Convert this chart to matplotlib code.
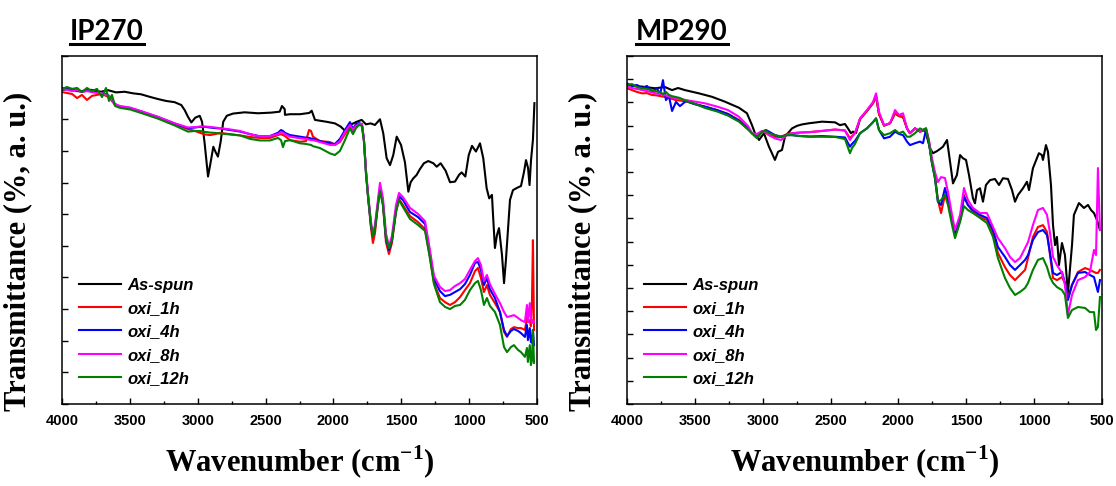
import matplotlib
matplotlib.use('Agg')
import matplotlib.pyplot as plt
from matplotlib.lines import Line2D
from matplotlib.ticker import MultipleLocator

plt.rcParams['mathtext.fontset'] = 'custom'
plt.rcParams['mathtext.rm'] = 'Liberation Serif:bold'
plt.rcParams['mathtext.bf'] = 'Liberation Serif:bold'

labels = ['As-spun', 'oxi_1h', 'oxi_4h', 'oxi_8h', 'oxi_12h']
colors = ['black', '#ff0000', '#0000ff', '#ff00ff', '#008000']

# ---------------- IP270 ----------------
ip_spun_w = [4000, 3931, 3860, 3786, 3713, 3661, 3602, 3538, 3477, 3418, 3354, 3293, 3234, 3170, 3121,
             3096, 3072, 3047, 3018, 2985, 2968, 2949, 2924, 2904, 2885, 2868, 2851, 2831, 2812, 2786,
             2740, 2654, 2556, 2458, 2396, 2379, 2359, 2357, 2320, 2246, 2178, 2160, 2136, 2050, 1989,
             1947, 1915, 1878, 1829, 1792, 1760, 1726, 1694, 1657, 1633, 1608, 1583, 1559, 1534, 1502,
             1473, 1448, 1431, 1412, 1387, 1362, 1333, 1301, 1264, 1239, 1210, 1173, 1141, 1104, 1075,
             1055, 1028, 1003, 979, 950, 920, 896, 871, 852, 832, 824, 810, 795, 780, 758, 743, 729,
             714, 699, 677, 648, 618, 596, 581, 566, 555, 544, 530, 519]
ip_spun = [99.3, 99.6, 98.7, 99.3, 98.7, 99.2, 98.5, 98.7, 98.2, 97.9, 97.1, 96.4, 95.8, 95.4, 94.5,
           92.9, 90.8, 89.0, 90.5, 91.1, 89.2, 82.4, 71.9, 76.6, 81.3, 79.6, 78.2, 82.9, 89.2, 91.1,
           91.8, 92.2, 91.9, 92.1, 92.4, 94.2, 93.2, 91.4, 91.6, 91.6, 92.0, 92.7, 89.8, 89.2, 88.7,
           87.7, 86.4, 88.2, 89.2, 89.8, 88.4, 88.7, 88.2, 90.0, 85.6, 77.7, 75.5, 78.7, 84.5, 81.9,
           76.4, 67.1, 70.1, 71.3, 72.4, 74.3, 76.1, 76.8, 76.1, 75.0, 76.1, 73.7, 70.1, 70.3, 72.4,
           73.2, 71.9, 78.7, 81.6, 79.8, 82.4, 77.7, 68.2, 65.0, 66.1, 59.7, 49.3, 53.4, 55.6, 47.1, 38.2, 45.5,
           55.0, 64.5, 67.6, 68.3, 68.9, 73.3, 77.1, 74.6, 69.2, 77.1, 83.5, 95.1]

ip_w = [4000, 3963, 3926, 3889, 3853, 3816, 3779, 3742, 3705, 3676, 3654, 3632, 3609, 3573, 3499,
        3418, 3293, 3167, 3072, 3020, 2983, 2946, 2910, 2873, 2836, 2762, 2688, 2615, 2541, 2467,
        2409, 2386, 2372, 2357, 2320, 2246, 2202, 2180, 2165, 2151, 2099, 2025, 1989, 1952, 1915,
        1878, 1856, 1834, 1812, 1790, 1775, 1760, 1745, 1723, 1709, 1694, 1672, 1657, 1635, 1613,
        1591, 1569, 1539, 1517, 1488, 1436, 1377, 1325, 1289, 1259, 1215, 1178, 1141, 1104, 1067,
        1031, 994, 957, 935, 913, 891, 869, 847, 810, 773, 743, 721, 692, 670, 640, 618, 589, 574,
        567, 553, 545, 537, 530, 522]
ip_1h = [98.6, 98.3, 98.0, 96.7, 97.7, 96.1, 97.4, 97.7, 98.0, 97.4, 97.0, 95.8, 94.5,
         93.9, 93.4, 92.3, 90.6, 88.4, 86.9, 86.3, 85.7, 85.2, 85.0, 85.3, 85.7, 85.3, 84.9, 84.4, 84.1, 84.1, 85.0, 85.3, 85.0, 84.7,
         83.4, 82.9, 83.1, 86.6, 86.3, 84.5, 83.1, 82.8, 81.9, 82.8, 85.3, 87.9, 86.3, 87.6, 88.5, 88.2, 83.4, 73.3, 65.4, 55.6,
         50.9, 54.0, 62.9, 68.3, 62.9, 51.2, 47.4, 50.9, 60.7, 64.8, 62.9, 59.4, 57.5, 55.3, 46.5, 38.2, 33.5, 32.2, 31.3, 32.2,
         33.8, 36.0, 38.2, 42.0, 43.0, 39.8, 35.4, 37.6, 34.5, 31.9, 29.1, 22.8, 21.2, 23.7, 24.3, 24.0, 24.0, 23.4, 27.2, 25.9,
         26.5, 24.6, 32.9, 51.8, 23.4]
ip_4h = [99.9, 99.6, 99.3, 98.9, 98.9, 99.3, 98.6, 98.6, 98.3, 98.0, 97.4, 96.1, 94.8,
         94.0, 93.6, 92.5, 90.7, 88.6, 87.2, 87.4, 87.6, 87.6, 87.4, 87.2, 87.1, 86.6, 86.1, 85.3, 84.6, 84.7, 85.7, 86.6, 86.3, 85.7,
         85.0, 84.5, 84.2, 84.1, 83.9, 83.8, 83.1, 82.4, 82.2, 83.8, 86.6, 89.1, 86.9, 88.5, 88.8, 88.5, 83.4, 73.3, 65.7, 56.3,
         53.1, 55.6, 63.5, 68.3, 63.5, 52.5, 48.7, 51.8, 61.3, 65.7, 64.5, 60.7, 59.1, 56.9, 47.7, 39.5, 35.7, 34.1, 34.5, 35.4,
         36.3, 37.9, 40.8, 44.6, 44.9, 42.4, 37.6, 39.8, 36.3, 33.5, 29.1, 23.4, 21.5, 23.1, 23.7, 23.1, 22.4, 21.2, 25.0, 20.2,
         24.0, 19.6, 19.3, 23.4, 18.6]
ip_8h = [99.6, 99.3, 98.9, 99.3, 98.6, 98.9, 98.6, 98.3, 98.3, 97.7, 97.4, 95.8, 94.8,
         94.2, 93.7, 92.6, 90.8, 88.7, 87.4, 87.5, 87.7, 87.7, 87.6, 87.4, 87.2, 86.8, 86.3, 85.3, 84.6, 84.7, 85.3, 86.0, 85.7, 85.3,
         84.5, 84.0, 83.8, 83.6, 83.4, 83.4, 82.8, 81.9, 81.9, 83.1, 86.0, 88.2, 86.6, 87.9, 88.5, 88.5, 83.4, 74.0, 66.7, 57.5,
         54.0, 56.6, 64.5, 69.9, 65.1, 54.0, 49.9, 53.1, 62.9, 66.7, 65.4, 62.0, 60.1, 57.8, 48.7, 40.5, 37.0, 35.7, 36.0, 37.3,
         38.2, 39.5, 42.4, 45.2, 46.1, 43.9, 38.9, 40.8, 37.9, 34.8, 31.9, 29.1, 27.5, 27.8, 28.1, 27.2, 26.5, 25.9, 31.3, 25.9,
         31.9, 27.2, 25.6, 26.5, 25.9]
ip_12h = [99.6, 100.2, 99.6, 99.9, 98.6, 99.9, 98.9, 99.6, 97.0, 99.9, 95.8, 97.7, 94.2,
          93.6, 93.1, 92.0, 90.2, 88.0, 86.1, 86.3, 86.3, 86.0, 85.8, 85.7, 85.5, 85.2, 84.9, 83.8, 83.3, 83.3, 84.1, 83.4, 81.2, 83.1,
          83.4, 82.4, 82.2, 82.0, 81.9, 81.5, 80.9, 79.2, 78.7, 80.0, 83.4, 87.2, 85.3, 87.2, 88.2, 87.9, 82.8, 72.4, 65.7, 56.6,
          52.8, 55.6, 62.9, 67.3, 62.9, 52.5, 49.3, 51.8, 60.7, 64.5, 62.3, 58.5, 56.6, 54.7, 46.1, 37.9, 32.2, 30.7, 30.0, 31.0,
          31.3, 32.9, 36.0, 38.2, 38.9, 36.0, 31.3, 33.5, 31.0, 29.1, 25.0, 18.0, 16.4, 18.0, 18.6, 17.1, 16.4, 14.9, 17.7, 13.3,
          18.6, 12.3, 13.9, 23.4, 13.0]

# ---------------- MP290 ----------------
mp_spun_w = [4000, 3889, 3794, 3720, 3668, 3624, 3573, 3470, 3373, 3278, 3175, 3116, 3079, 3057, 3027,
             2991, 2954, 2932, 2910, 2887, 2858, 2836, 2784, 2747, 2711, 2659, 2563, 2467, 2431, 2394,
             2372, 2350, 2335, 2313, 2283, 2232, 2187, 2165, 2143, 2106, 2062, 2025, 1996, 1966, 1937,
             1915, 1878, 1841, 1804, 1767, 1745, 1716, 1694, 1672, 1642, 1635, 1613, 1598, 1569, 1546,
             1524, 1502, 1480, 1451, 1436, 1421, 1399, 1377, 1355, 1325, 1289, 1259, 1230, 1193, 1163,
             1141, 1119, 1082, 1053, 1038, 1009, 965, 943, 935, 913, 898, 876, 861, 846, 832, 817, 795,
             773, 751, 721, 707, 670, 633, 603, 581, 559, 537, 515]
mp_spun = [137.5, 136.8, 136.1, 136.6, 135.3, 136.2, 135.3, 133.9, 132.4, 130.3, 127.7, 125.3, 120.2, 116.7, 113.8,
           116.7, 110.9, 108.1, 105.2, 108.7, 109.5, 115.2, 118.8, 119.9, 120.5, 121.0, 121.7, 121.4, 120.2, 120.7,
           118.8, 116.7, 117.4, 116.8, 122.8, 126.3, 129.7, 132.7, 125.0, 120.0, 121.0, 125.3, 124.1, 123.8, 118.8,
           116.7, 118.8, 117.4, 118.1, 110.2, 108.1, 109.0, 109.9, 110.9, 113.8, 110.9, 101.6, 95.1, 98.7, 107.3,
           105.9, 105.2, 98.7, 88.7, 86.5, 92.2, 93.0, 87.2, 94.4, 96.5, 97.0, 94.4, 97.3, 97.0, 92.2,
           87.2, 90.1, 93.0, 95.8, 92.2, 101.6, 108.1, 107.3, 105.2, 111.6, 108.7, 94.4, 77.1, 68.5, 72.0, 59.9, 69.4,
           64.2, 47.8, 68.5, 81.5, 86.6, 84.5, 85.8, 83.6, 82.3, 79.3, 75.0]

mp_w = [4000, 3963, 3926, 3889, 3853, 3816, 3779, 3757, 3735, 3713, 3691, 3668, 3639, 3610, 3565,
        3506, 3425, 3337, 3256, 3175, 3108, 3079, 3042, 3005, 2976, 2954, 2910, 2865, 2821, 2784,
        2725, 2652, 2563, 2467, 2394, 2357, 2342, 2320, 2283, 2232, 2187, 2165, 2143, 2106, 2062,
        2025, 1996, 1966, 1937, 1915, 1878, 1841, 1819, 1797, 1775, 1753, 1731, 1709, 1686, 1657,
        1635, 1605, 1583, 1546, 1517, 1488, 1451, 1399, 1348, 1303, 1267, 1215, 1178, 1141, 1104,
        1067, 1045, 1009, 972, 935, 905, 883, 861, 832, 795, 773, 751, 721, 677, 625, 589, 559,
        544, 530, 515]
mp_1h = [136.1, 135.3, 134.5, 133.9, 134.0, 133.2, 133.0, 132.7, 132.5, 132.3, 131.9, 131.5, 131.0, 130.8, 130.4,
         129.5, 128.1, 126.7, 125.0, 122.4, 119.0, 116.7, 115.5, 117.4, 116.8, 115.9, 115.2, 115.1, 116.4, 116.7,
         117.0, 117.2, 117.7, 118.3, 117.9, 114.6, 115.5, 116.8, 122.8, 126.3, 129.7, 132.7, 125.0, 120.0, 121.0,
         125.3, 124.1, 123.8, 118.8, 116.7, 118.8, 117.4, 118.1, 118.8, 112.9, 104.3, 98.7, 87.9, 82.3, 90.1,
         87.9, 79.3, 72.8, 79.3, 90.1, 85.8, 82.8, 80.6, 79.3, 73.7, 65.1, 59.0, 55.6, 53.4, 55.6,
         57.8, 62.9, 72.0, 76.3, 77.1, 74.1, 64.2, 54.3, 53.4, 54.7, 52.2, 45.7, 51.3, 56.9, 58.6, 57.8, 56.9,
         56.5, 56.5, 57.8]
mp_4h = [138.2, 137.1, 137.5, 136.1, 137.1, 134.5, 136.2, 133.2, 139.6, 131.0, 132.7, 126.3, 130.2, 128.4, 130.6,
         129.3, 128.2, 126.7, 125.0, 122.2, 118.5, 116.7, 114.6, 117.4, 118.1, 117.4, 115.9, 115.2, 115.9, 115.9,
         115.5, 115.3, 115.5, 115.2, 114.9, 110.9, 112.1, 113.4, 116.7, 118.8, 121.5, 123.1, 118.1, 114.5, 115.2,
         117.4, 116.4, 115.9, 113.1, 111.6, 112.4, 113.1, 112.4, 118.1, 112.5, 103.9, 97.4, 87.2, 85.8, 93.1,
         87.9, 78.4, 73.3, 79.3, 89.2, 85.8, 83.6, 81.5, 80.2, 75.0, 67.7, 63.4, 59.9, 57.8, 59.9,
         62.1, 64.2, 70.7, 74.1, 75.0, 72.8, 65.1, 56.5, 55.6, 56.9, 52.2, 44.8, 51.3, 56.5, 56.9, 55.6, 54.7,
         51.3, 48.3, 53.4]
mp_8h = [136.8, 136.2, 135.8, 135.3, 134.9, 134.3, 133.8, 133.6, 133.2, 133.0, 132.5, 132.1, 131.7, 131.5, 131.0,
         130.4, 129.6, 128.2, 126.7, 123.8, 119.8, 116.7, 116.4, 117.7, 117.2, 115.9, 114.5, 113.8, 115.9, 116.7,
         117.0, 117.2, 117.7, 118.3, 117.9, 113.8, 115.1, 116.8, 123.1, 126.7, 130.2, 133.9, 125.9, 120.2, 121.0,
         126.7, 124.6, 125.3, 118.8, 116.7, 118.8, 117.4, 118.1, 118.8, 113.8, 106.0, 100.0, 95.7, 97.8, 97.4,
         91.4, 81.5, 75.0, 81.5, 93.1, 87.9, 84.5, 82.3, 82.3, 76.3, 71.5, 67.2, 63.4, 61.2, 62.9,
         67.2, 69.8, 77.1, 83.6, 84.5, 81.5, 73.7, 63.4, 59.9, 56.5, 51.3, 38.4, 47.0, 53.4, 54.7, 56.9, 66.4,
         64.2, 101.7, 75.0]
mp_12h = [137.5, 137.9, 136.6, 136.1, 135.8, 135.3, 134.7, 134.5, 133.6, 134.5, 133.2, 132.7, 132.3, 131.9, 130.6,
          129.5, 127.6, 126.1, 124.3, 121.7, 118.3, 116.7, 114.6, 117.4, 117.7, 116.8, 115.9, 115.2, 115.9, 115.9,
          115.5, 115.2, 115.2, 115.1, 114.2, 108.1, 110.3, 112.1, 116.7, 118.8, 121.5, 123.1, 118.1, 115.9, 116.7,
          118.1, 116.7, 117.4, 115.2, 115.2, 116.7, 118.8, 118.1, 118.8, 112.5, 103.9, 97.4, 87.2, 87.9, 90.1,
          85.8, 77.1, 71.5, 78.4, 85.3, 83.6, 82.3, 80.2, 78.0, 72.0, 62.9, 54.3, 50.0, 47.0, 48.3,
          50.0, 52.2, 57.8, 62.1, 62.9, 59.0, 54.7, 52.2, 50.4, 49.1, 47.0, 37.1, 40.5, 41.8, 41.4, 39.6, 39.6,
          31.9, 33.2, 46.1]

panels = [
    ('IP270', [(ip_spun_w, ip_spun), (ip_w, ip_1h), (ip_w, ip_4h), (ip_w, ip_8h), (ip_w, ip_12h)], 110),
    ('MP290', [(mp_spun_w, mp_spun), (mp_w, mp_1h), (mp_w, mp_4h), (mp_w, mp_8h), (mp_w, mp_12h)], 150),
]

fig = plt.figure(figsize=(11.16, 4.86), dpi=100)
lefts = [62 / 1116, 627 / 1116]
titles = []

for i, (name, series, ytop) in enumerate(panels):
    ax = fig.add_axes([lefts[i], 82 / 486, 475 / 1116, 348 / 486])
    for (w, t), lab, c in zip(series, labels, colors):
        ax.plot(w, t, color=c, lw=1.5, label=lab)

    ax.set_xlim(4000, 500)
    ax.set_ylim(0, ytop)
    ax.xaxis.set_major_locator(MultipleLocator(500))
    ax.xaxis.set_minor_locator(MultipleLocator(250))
    ax.yaxis.set_major_locator(MultipleLocator(10))
    ax.set_yticklabels([])
    ax.tick_params(which='both', direction='in', top=False, right=False, width=1)
    ax.tick_params(which='major', length=4.5)
    ax.tick_params(which='minor', length=2.5)
    ax.tick_params(axis='x', pad=7, labelsize=10.5)
    for lbl in ax.get_xticklabels():
        lbl.set_fontfamily('Liberation Sans')
        lbl.set_fontweight('bold')
    for s in ax.spines.values():
        s.set_linewidth(1.1)

    ax.set_ylabel('Transmittance (%, a. u.)', family='Liberation Serif', weight='bold', size=22)
    ax.yaxis.set_label_coords(-0.062, 0.44)
    ax.set_xlabel(r'Wavenumber (cm$^{\mathbf{-1}}$)', family='Liberation Serif', weight='bold', size=22)
    ax.xaxis.set_label_coords(0.5, -0.115)

    ax.legend(loc='lower left', bbox_to_anchor=(0.036, 0.052), frameon=False, borderpad=0,
              borderaxespad=0, handlelength=2.5, handletextpad=0.4, labelspacing=0.5,
              prop={'family': 'Liberation Sans', 'weight': 'bold', 'style': 'italic', 'size': 12})

    tx = (70 if i == 0 else 636) / 1116
    titles.append(fig.text(tx, 1 - 40 / 486, name, family='Lato', weight='bold', size=20, va='baseline'))

# underline the panel titles
fig.canvas.draw()
inv = fig.transFigure.inverted()
for t in titles:
    bb = t.get_window_extent()
    (x0, y0), (x1, y1) = inv.transform([[bb.x0, bb.y0], [bb.x1, bb.y1]])
    fig.add_artist(Line2D([x0, x1], [y0 + 0.003, y0 + 0.003], color='black', lw=2.2, transform=fig.transFigure))

fig.savefig('out.png', dpi=100)
